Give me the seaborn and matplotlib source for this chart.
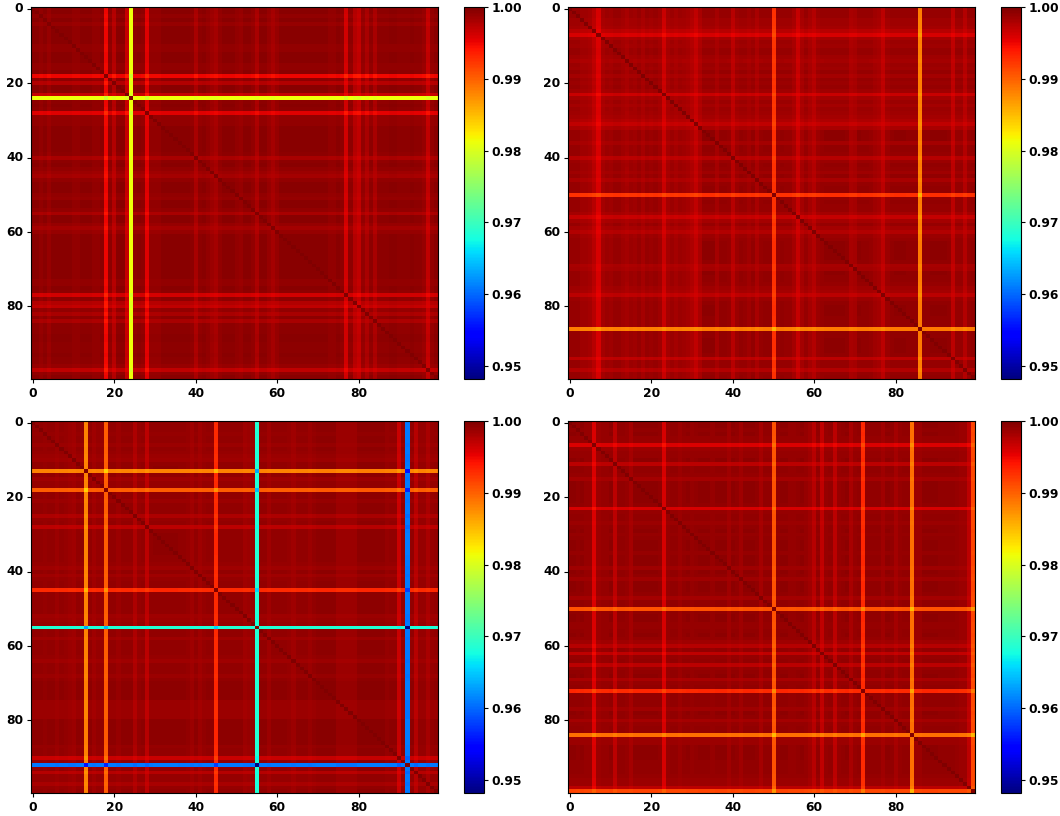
import numpy as np
import pandas as pd
import seaborn as sns
import matplotlib
matplotlib.use("Agg")
import matplotlib.pyplot as plt

# Per-index deviation from 1.0 (units of 1e-4)
dev_top_left = [
 3,3,8,3,10,4,3,3,3,3,
 7,7,3,3,3,7,7,4,48,5,
 22,4,4,30,185,5,4,6,42,8,
 8,8,3,3,3,3,3,3,3,5,
 18,5,4,7,12,16,7,4,3,3,
 7,9,4,4,7,18,4,3,9,15,
 9,3,3,3,3,3,4,3,3,3,
 4,4,4,7,7,4,6,35,6,22,
 28,8,18,5,18,6,6,6,3,3,
 6,6,6,4,6,6,10,28,8,4]
dev_top_right = [
 8,8,8,12,12,14,22,36,14,10,
 12,8,8,12,15,10,12,8,14,8,
 10,8,12,30,14,10,14,10,12,14,
 18,26,16,5,5,5,14,6,6,8,
 22,10,6,8,12,6,16,8,6,6,
 70,8,6,8,8,14,28,14,8,14,
 20,10,8,5,5,5,5,5,6,16,
 14,5,6,6,8,12,14,24,10,6,
 5,5,5,6,6,6,112,6,6,5,
 5,5,5,6,24,8,8,20,8,6]
dev_bottom_left = [
 6,6,6,8,6,6,10,6,8,10,
 12,6,5,115,6,12,8,8,95,6,
 6,10,6,6,6,18,8,6,24,6,
 5,5,5,5,5,5,6,6,8,12,
 6,12,8,6,6,66,6,6,6,6,
 6,6,12,10,8,312,6,6,12,6,
 6,6,6,8,12,6,6,6,10,6,
 4,4,4,4,4,10,10,10,10,10,
 4,4,4,4,4,4,4,8,6,6,
 30,6,388,6,22,8,8,16,8,6]
dev_bottom_right = [
 5,5,6,5,8,8,38,10,8,8,
 5,24,6,6,8,14,5,5,5,5,
 5,5,6,36,8,6,6,10,6,5,
 8,6,5,5,5,8,5,5,5,12,
 5,6,12,5,5,5,6,14,6,6,
 90,6,5,5,8,8,6,5,8,12,
 22,6,26,8,6,24,8,6,5,16,
 8,6,66,6,6,6,6,12,5,6,
 14,8,6,6,105,10,10,5,5,5,
 5,6,6,6,6,8,10,10,24,82]

panels = [dev_top_left, dev_top_right, dev_bottom_left, dev_bottom_right]
tick_vals = [0, 20, 40, 60, 80]
cbar_ticks = [0.95, 0.96, 0.97, 0.98, 0.99, 1.00]
vmin, vmax = 0.9482, 1.0

sns.set_theme(style="white", rc={"font.family": "DejaVu Sans"})
W, H = 1060, 816
fig = plt.figure(figsize=(W / 100, H / 100), dpi=100)

def box(x0, y0, x1, y1):
    return [x0 / W, 1 - y1 / H, (x1 - x0) / W, (y1 - y0) / H]

lefts = [(31, 438, 464, 484), (568, 975, 1001, 1021)]
tops = [(7, 379), (421, 793)]
FS = 8.8

k = 0
for (y0, y1) in tops:
    for (x0, x1, c0, c1) in lefts:
        ax = fig.add_axes(box(x0, y0, x1, y1))
        cax = fig.add_axes(box(c0, y0, c1, y1))
        d = np.array(panels[k]) * 1e-4
        hi = np.maximum(d[:, None], d[None, :])
        lo = np.minimum(d[:, None], d[None, :])
        m = 1 - hi - 0.5 * lo
        np.fill_diagonal(m, 1.0)
        m = np.clip(m, vmin, vmax)
        sns.heatmap(pd.DataFrame(m), ax=ax, cbar_ax=cax, cmap="jet", vmin=vmin, vmax=vmax,
                    square=False, cbar_kws={"ticks": cbar_ticks})
        ax.set_xticks([v + 0.5 for v in tick_vals])
        ax.set_xticklabels(tick_vals, rotation=0, fontsize=FS, fontweight="bold", color="black")
        ax.set_yticks([v + 0.5 for v in tick_vals])
        ax.set_yticklabels(tick_vals, rotation=0, fontsize=FS, fontweight="bold", color="black")
        ax.tick_params(axis="both", length=3, width=0.8, color="black", pad=2.5, bottom=True, left=True)
        for s in ax.spines.values():
            s.set_visible(True)
            s.set_color("black")
            s.set_linewidth(0.8)
        cb = ax.collections[0].colorbar
        cb.outline.set_visible(True)
        cb.outline.set_edgecolor("black")
        cb.outline.set_linewidth(0.8)
        cb.set_ticks(cbar_ticks)
        cb.set_ticklabels([f"{v:.2f}" for v in cbar_ticks])
        cax.tick_params(axis="y", length=3, width=0.8, color="black", pad=2.5, right=True)
        for t in cax.get_yticklabels():
            t.set_fontsize(FS)
            t.set_fontweight("bold")
            t.set_color("black")
        k += 1

fig.savefig("out.png", dpi=100)
